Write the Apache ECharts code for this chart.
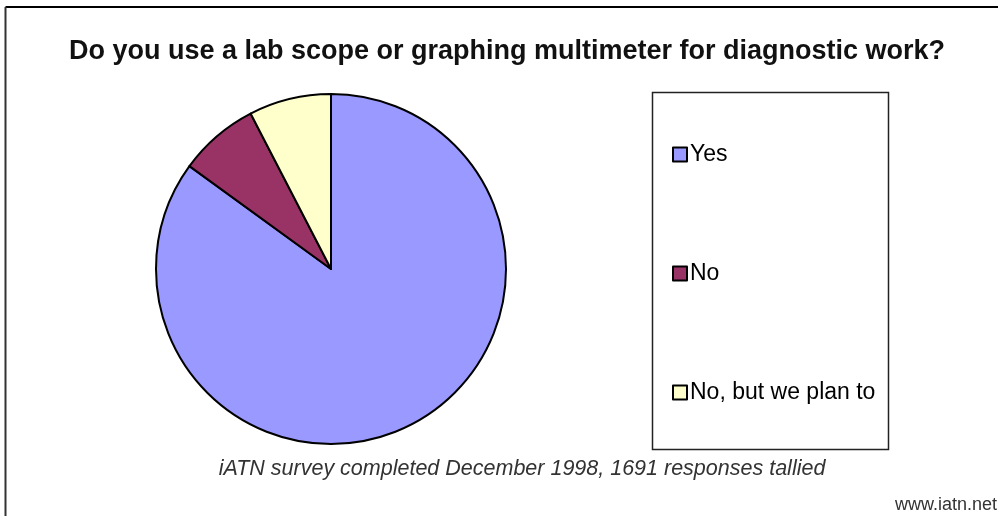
<!DOCTYPE html>
<html>
<head>
<meta charset="utf-8">
<script src="https://cdn.jsdelivr.net/npm/echarts@6/dist/echarts.min.js"></script>
<style>
  html, body { margin: 0; padding: 0; background: #fff; }
  #chart { width: 998px; height: 516px; }
</style>
</head>
<body>
<div id="chart"></div>
<script>
// survey answers (percent of 1691 responses)
var categories = ['Yes', 'No', 'No, but we plan to'];
var shares = [85.0, 7.4, 7.6];
var colors = ['#9999FF', '#993366', '#FFFFCC'];

var chart = echarts.init(document.getElementById('chart'));

var pieData = [];
for (var i = 0; i < categories.length; i++) {
  pieData.push({ name: categories[i], value: shares[i], itemStyle: { color: colors[i] } });
}

chart.setOption({
  animation: false,
  backgroundColor: '#fff',
  title: {
    text: 'Do you use a lab scope or graphing multimeter for diagnostic work?',
    left: 502,
    top: 33,
    textAlign: 'center',
    textStyle: { fontFamily: 'Liberation Sans', fontSize: 27, fontWeight: 'bold', color: '#111' }
  },
  legend: {
    orient: 'vertical',
    left: 667,
    top: 138,
    itemWidth: 14,
    itemHeight: 14,
    itemGap: 96,
    icon: 'rect',
    selectedMode: false,
    itemStyle: { borderColor: '#000', borderWidth: 2 },
    textStyle: { fontFamily: 'Liberation Sans', fontSize: 23, color: '#000', padding: [0, 0, 0, -2] },
    data: categories
  },
  graphic: [
    // outer frame (top and left edges)
    { type: 'line', shape: { x1: 5.5, y1: 7, x2: 998, y2: 7 }, style: { stroke: '#000', lineWidth: 2 } },
    { type: 'line', shape: { x1: 5.5, y1: 7, x2: 5.5, y2: 516 }, style: { stroke: '#333', lineWidth: 2 } },
    // legend box
    { type: 'rect', shape: { x: 652.5, y: 92.5, width: 236, height: 357 }, style: { fill: 'none', stroke: '#222', lineWidth: 1.5 } },
    {
      type: 'text', x: 522, y: 458, style: {
        text: 'iATN survey completed December 1998, 1691 responses tallied',
        textAlign: 'center',
        textVerticalAlign: 'top',
        font: 'italic 21.5px "Liberation Sans"',
        fill: '#333'
      }
    },
    {
      type: 'text', x: 997, y: 496, style: {
        text: 'www.iatn.net',
        textAlign: 'right',
        textVerticalAlign: 'top',
        font: '18px "Liberation Sans"',
        fill: '#333'
      }
    }
  ],
  series: [{
    type: 'pie',
    center: [331, 269],
    radius: [0, 175],
    startAngle: 90,
    clockwise: true,
    label: { show: false },
    labelLine: { show: false },
    emphasis: { disabled: true },
    itemStyle: { borderColor: '#000', borderWidth: 2 },
    data: pieData
  }]
});
</script>
</body>
</html>
